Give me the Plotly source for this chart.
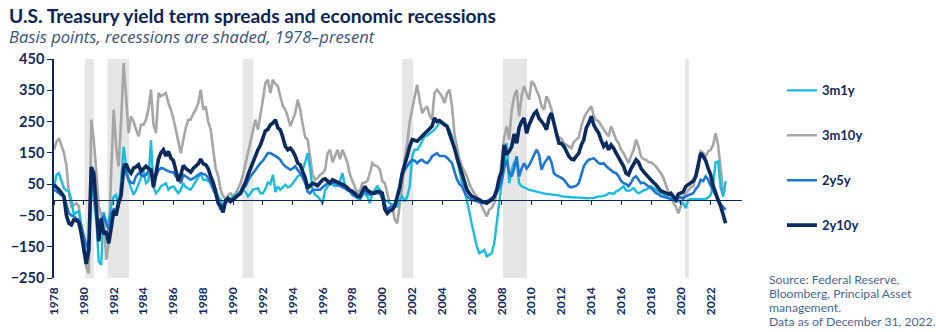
import pandas as pd
import plotly.graph_objects as go

# Bi-monthly observations, Jan 1978 through Jan 2023 (basis points)
dates = pd.date_range("1978-01-01", "2023-01-01", freq="2MS")

spread_3m1y = [
    37, 80, 85, 60, 37, 30,          # 1978
    27, 0, -48, -40, -37, -80,       # 1979
    -140, -176, -150, 40, 0, -70,    # 1980
    -197, -208, -40, -69, -69, -20,  # 1981
    10, 16, -27, 59, 170, 110,       # 1982
    60, 37, 16, 30, 50, 69,          # 1983
    91, 53, 60, 190, 40, 21,         # 1984
    30, 43, 48, 53, 32, 40,          # 1985
    43, 30, 21, 32, 53, 40,          # 1986
    35, 32, 45, 59, 70, 85,          # 1987
    64, 64, 60, 58, 53, 35,          # 1988
    10, 0, -21, -10, 0, 5,           # 1989
    10, 15, 21, 25, 32, 25,          # 1990
    11, 20, 32, 35, 37, 21,          # 1991
    21, 35, 55, 50, 80, 25,          # 1992
    43, 32, 40, 48, 40, 43,          # 1993
    53, 65, 75, 80, 96, 120,         # 1994
    149, 100, 32, 15, 11, 0,         # 1995
    -11, 30, 43, 53, 48, 43,         # 1996
    45, 60, 85, 43, 35, 25,          # 1997
    20, 11, 5, 0, 15, 20,            # 1998
    10, -11, 20, 32, 43, 32,         # 1999
    20, 0, -5, -11, -15, -18,        # 2000
    -21, 0, 11, -5, 10, 43,          # 2001
    140, 160, 160, 171, 185, 203,    # 2002
    205, 213, 218, 224, 235, 245,    # 2003
    245, 245, 235, 224, 203, 165,    # 2004
    120, 85, 55, 32, 0, -40,         # 2005
    -80, -117, -149, -171, -165, -160,  # 2006
    -181, -175, -171, -139, -75, 0,  # 2007
    60, 117, 181, 53, 96, 120,       # 2008
    128, 53, 43, 40, 35, 32,         # 2009
    30, 28, 25, 22, 21, 20,          # 2010
    18, 18, 17, 16, 16, 14,          # 2011
    11, 11, 10, 9, 8, 8,             # 2012
    8, 8, 7, 6, 5, 5,                # 2013
    5, 6, 8, 11, 11, 12,             # 2014
    15, 21, 21, 18, 27, 30,          # 2015
    37, 43, 30, 28, 32, 37,          # 2016
    27, 21, 25, 30, 32, 38,          # 2017
    43, 38, 32, 28, 21, 18,          # 2018
    11, 8, 5, 0, -5, -5,             # 2019
    -8, -11, -27, 0, 2, 2,           # 2020
    2, 0, 0, 2, 2, 8,                # 2021
    15, 50, 120, 123, 40, 10,        # 2022
    60,                              # 2023
]

spread_3m10y = [
    160, 185, 197, 176, 150, 110,    # 1978
    21, -21, -15, -11, -21, -90,     # 1979
    -170, -215, -235, 256, 190, 90,  # 1980
    -21, -53, -40, -192, -140, 90,   # 1981
    288, 170, 107, 250, 437, 330,    # 1982
    213, 267, 251, 225, 203, 240,    # 1983
    240, 256, 290, 352, 240, 213,    # 1984
    341, 331, 335, 341, 309, 288,    # 1985
    260, 224, 192, 149, 192, 230,    # 1986
    256, 256, 275, 288, 309, 352,    # 1987
    288, 299, 250, 224, 160, 100,    # 1988
    75, 32, 11, 5, 15, 21,           # 1989
    11, 20, 35, 53, 80, 117,         # 1990
    150, 181, 220, 256, 224, 280,    # 1991
    320, 373, 384, 341, 384, 370,    # 1992
    363, 331, 300, 288, 265, 235,    # 1993
    260, 277, 320, 288, 240, 200,    # 1994
    192, 128, 80, 64, 70, 80,        # 1995
    85, 96, 149, 160, 120, 140,      # 1996
    160, 130, 160, 140, 117, 80,     # 1997
    60, 43, 21, 30, 53, 55,          # 1998
    60, 85, 117, 110, 107, 96,       # 1999
    60, 53, 20, -11, -21, -64,       # 2000
    -75, -20, 40, 128, 180, 250,     # 2001
    290, 331, 368, 320, 277, 290,    # 2002
    299, 270, 256, 341, 352, 341,    # 2003
    330, 309, 340, 352, 299, 210,    # 2004
    170, 130, 107, 90, 75, 50,       # 2005
    32, 20, 11, 0, -21, -35,         # 2006
    -53, -32, -25, -11, 20, 53,      # 2007
    130, 200, 235, 192, 288, 330,    # 2008
    352, 267, 331, 363, 340, 320,    # 2009
    379, 370, 350, 331, 300, 288,    # 2010
    331, 315, 290, 245, 203, 200,    # 2011
    195, 181, 175, 171, 165, 185,    # 2012
    192, 200, 235, 260, 277, 290,    # 2013
    299, 267, 255, 250, 235, 225,    # 2014
    213, 203, 235, 210, 192, 181,    # 2015
    160, 149, 130, 117, 140, 160,    # 2016
    192, 171, 139, 130, 128, 120,    # 2017
    120, 115, 107, 95, 85, 70,       # 2018
    43, 25, 11, -10, -21, -43,       # 2019
    -20, 11, 20, 32, 40, 43,         # 2020
    75, 96, 155, 150, 139, 155,      # 2021
    160, 175, 213, 175, 100, 25,     # 2022
    32,                              # 2023
]

spread_2y5y = [
    32, 25, 21, 15, 11, -15,         # 1978
    -43, -50, -53, -60, -64, -85,    # 1979
    -120, -145, -160, 60, 32, -30,   # 1980
    -117, -60, -53, -75, -96, -45,   # 1981
    -30, -32, -11, 11, 117, 85,      # 1982
    64, 55, 53, 75, 85, 80,          # 1983
    75, 80, 91, 85, 55, 75,          # 1984
    95, 101, 100, 95, 91, 88,        # 1985
    88, 75, 69, 53, 80, 75,          # 1986
    70, 64, 68, 75, 80, 85,          # 1987
    82, 80, 70, 53, 35, 15,          # 1988
    -10, -32, -20, -10, -5, -5,      # 1989
    0, 5, 15, 21, 35, 43,            # 1990
    60, 75, 85, 96, 110, 117,        # 1991
    125, 139, 149, 149, 145, 139,    # 1992
    135, 128, 115, 107, 100, 96,     # 1993
    100, 107, 95, 85, 70, 53,        # 1994
    25, 21, 32, 32, 30, 32,          # 1995
    40, 48, 53, 53, 55, 53,          # 1996
    48, 43, 40, 37, 30, 27,          # 1997
    15, 11, 8, 5, 20, 32,            # 1998
    20, 16, 18, 21, 22, 21,          # 1999
    5, -11, -32, -25, -21, -15,      # 2000
    5, 32, 75, 95, 107, 120,         # 2001
    128, 125, 117, 125, 128, 120,    # 2002
    117, 125, 139, 145, 149, 140,    # 2003
    139, 140, 135, 125, 117, 90,     # 2004
    65, 50, 43, 25, 11, 5,           # 2005
    0, -2, -5, -8, -11, -8,          # 2006
    -5, 0, 5, 10, 21, 40,            # 2007
    60, 100, 128, 85, 75, 100,       # 2008
    139, 75, 100, 117, 100, 110,     # 2009
    128, 145, 160, 145, 96, 115,     # 2010
    128, 139, 120, 85, 78, 75,       # 2011
    70, 64, 55, 43, 40, 43,          # 2012
    45, 53, 80, 107, 120, 128,       # 2013
    130, 133, 125, 117, 115, 117,    # 2014
    107, 100, 92, 88, 85, 75,        # 2015
    60, 53, 50, 43, 55, 70,          # 2016
    75, 65, 53, 55, 48, 43,          # 2017
    38, 30, 21, 18, 11, 10,          # 2018
    8, 5, 3, 0, -3, 5,               # 2019
    8, 3, 11, 15, 18, 21,            # 2020
    35, 43, 64, 60, 75, 64,          # 2021
    45, 32, 15, -5, -15, -25,        # 2022
    -32,                             # 2023
]

spread_2y10y = [
    48, 38, 32, 22, 10, -50,         # 1978
    -75, -80, -64, -66, -72, -110,   # 1979
    -165, -205, -160, 105, 85, -30,  # 1980
    -133, -60, -110, -100, -139, -90,  # 1981
    -35, -50, -10, 15, 100, 115,     # 1982
    95, 85, 101, 105, 112, 91,       # 1983
    100, 107, 100, 96, 40, 80,       # 1984
    130, 150, 160, 140, 155, 133,    # 1985
    125, 95, 60, 80, 110, 100,       # 1986
    95, 88, 100, 107, 115, 130,      # 1987
    115, 112, 100, 75, 55, 25,       # 1988
    -10, -20, -40, -2, 5, -5,        # 1989
    3, 8, 14, 20, 40, 55,            # 1990
    80, 100, 125, 140, 160, 175,     # 1991
    200, 220, 225, 240, 245, 256,    # 1992
    230, 224, 200, 171, 160, 165,    # 1993
    155, 140, 117, 112, 90, 70,      # 1994
    37, 45, 53, 50, 45, 55,          # 1995
    64, 67, 60, 53, 64, 60,          # 1996
    59, 55, 48, 45, 38, 30,          # 1997
    27, 18, 12, 11, 25, 43,          # 1998
    30, 25, 21, 22, 27, 25,          # 1999
    21, -30, -43, -35, -32, -20,     # 2000
    10, 40, 85, 110, 140, 171,       # 2001
    192, 190, 187, 195, 203, 210,    # 2002
    219, 225, 235, 261, 250, 253,    # 2003
    245, 240, 235, 213, 192, 165,    # 2004
    135, 110, 75, 50, 32, 20,        # 2005
    11, 8, 5, 0, -5, -8,             # 2006
    -11, -5, 0, 10, 32, 70,          # 2007
    90, 175, 145, 155, 170, 210,     # 2008
    181, 230, 250, 261, 213, 240,    # 2009
    256, 275, 283, 260, 251, 240,    # 2010
    224, 260, 277, 245, 215, 181,    # 2011
    180, 171, 155, 139, 130, 128,    # 2012
    140, 149, 175, 192, 230, 245,    # 2013
    267, 240, 225, 213, 190, 171,    # 2014
    180, 160, 175, 165, 149, 135,    # 2015
    120, 107, 85, 80, 100, 117,      # 2016
    128, 120, 101, 90, 80, 70,       # 2017
    64, 55, 48, 37, 28, 25,          # 2018
    22, 18, 21, 12, 0, 18,           # 2019
    21, 25, 43, 48, 53, 60,          # 2020
    75, 110, 149, 139, 125, 100,     # 2021
    80, 45, 20, 0, -20, -45,         # 2022
    -75,                             # 2023
]

# Recession periods (shaded)
recession_starts = ["1980-02-01", "1981-08-01", "1990-08-20", "2001-05-01", "2008-02-01", "2020-04-10"]
recession_ends = ["1980-09-01", "1983-01-10", "1991-05-10", "2002-01-25", "2009-09-10", "2020-07-15"]

tick_years = list(range(1978, 2023, 2))
y_ticks = [-250, -150, -50, 50, 150, 250, 350, 450]

NAVY = "#0c2857"
TEXT_NAVY = "#0f2a5c"

series = [
    # name, values, colour, width, legend rank
    ("3m10y", spread_3m10y, "#a6a6a6", 2.6, 2),
    ("3m1y", spread_3m1y, "#19bcdb", 2.4, 1),
    ("2y5y", spread_2y5y, "#1f76cf", 2.6, 3),
    ("2y10y", spread_2y10y, "#0a2a5e", 3.6, 4),
]

fig = go.Figure()
for name, vals, color, width, rank in series:
    assert len(vals) == len(dates), (name, len(vals))
    fig.add_trace(go.Scatter(
        x=dates, y=vals, name=name, mode="lines",
        line=dict(color=color, width=width),
        legendgroup=name, legendrank=rank,
    ))

# invisible carrier so the zero-level axis with tick marks is drawn
fig.add_trace(go.Scatter(
    x=dates[:1], y=[0], xaxis="x2", mode="markers",
    marker=dict(opacity=0), showlegend=False, hoverinfo="skip",
))

for s, e in zip(recession_starts, recession_ends):
    fig.add_shape(type="rect", xref="x", yref="paper", x0=s, x1=e, y0=0, y1=1,
                  fillcolor="#e6e6e6", line=dict(width=0), layer="below")

tickvals = [f"{y}-01-01" for y in tick_years]
x_range = ["1978-01-01", "2024-02-06"]

fig.update_layout(
    width=936, height=332,
    margin=dict(l=54, r=194, t=59, b=54),
    plot_bgcolor="white", paper_bgcolor="white",
    font=dict(family="Lato, Open Sans, sans-serif", color=TEXT_NAVY),
    xaxis=dict(
        type="date", range=x_range, tickvals=tickvals, ticktext=[str(y) for y in tick_years],
        tickangle=-90, tickfont=dict(size=12, weight="bold", color=TEXT_NAVY),
        showline=False, showgrid=False, zeroline=False, ticks="", ticklabelstandoff=6,
    ),
    xaxis2=dict(
        type="date", overlaying="x", matches="x", anchor="free", position=250 / 700,
        tickvals=tickvals, showticklabels=False, ticks="outside", ticklen=4,
        tickcolor=NAVY, tickwidth=1, showline=True, linecolor=NAVY, linewidth=1.3,
        showgrid=False, zeroline=False,
    ),
    yaxis=dict(
        range=[-250, 450], tickvals=y_ticks, showline=True, linecolor=NAVY, linewidth=1.5,
        ticks="outside", ticklen=5, tickcolor=NAVY, tickwidth=1.3,
        tickfont=dict(size=14.5, weight="bold", color=TEXT_NAVY),
        showgrid=False, zeroline=False,
    ),
    legend=dict(
        x=1.058, xanchor="left", y=0.925, yanchor="top",
        font=dict(size=13, weight="bold", color=TEXT_NAVY),
        tracegroupgap=25, itemwidth=30, traceorder="grouped", bgcolor="rgba(0,0,0,0)",
    ),
    showlegend=True,
)

def px_x(px):
    return (px - 54) / 688

def px_y(py):
    return (278 - py) / 219

fig.add_annotation(
    text="U.S. Treasury yield term spreads and economic recessions",
    xref="paper", yref="paper", x=px_x(8), y=px_y(15), xanchor="left", yanchor="middle",
    showarrow=False, borderpad=0, font=dict(size=19.2, weight="bold", color="#0a2455"),
)
fig.add_annotation(
    text="<i>Basis points, recessions are shaded, 1978–present</i>",
    xref="paper", yref="paper", x=px_x(8), y=px_y(36.5), xanchor="left", yanchor="middle",
    showarrow=False, borderpad=0,
    font=dict(size=16.6, color="#3a5278", family="Open Sans, sans-serif"),
)

source_lines = [
    "Source: Federal Reserve,",
    "Bloomberg, Principal Asset",
    "management.",
    "Data as of December 31, 2022.",
]
for line, py in zip(source_lines, [279.2, 293.2, 307.2, 321.2]):
    fig.add_annotation(
        text=line, xref="paper", yref="paper", x=px_x(768), y=px_y(py),
        xanchor="left", yanchor="middle", showarrow=False, borderpad=0,
        font=dict(size=12.2, color="#4a6890"),
    )

fig.write_html("out.html")
